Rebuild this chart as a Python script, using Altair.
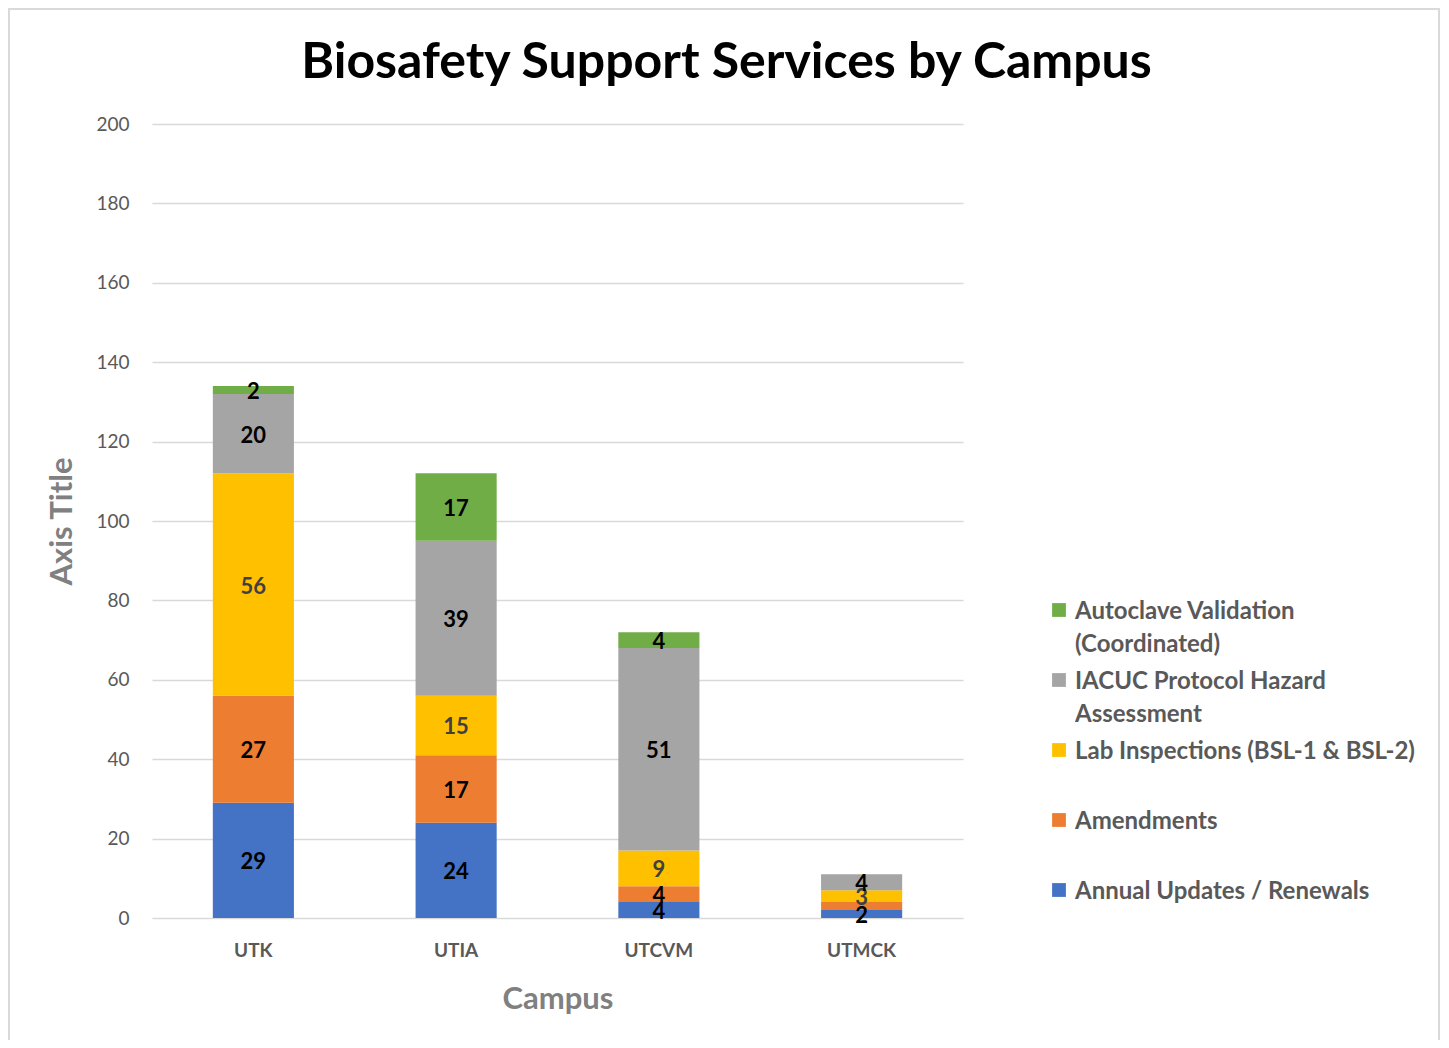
import altair as alt
import pandas as pd

campuses = ["UTK", "UTIA", "UTCVM", "UTMCK"]
series = [
    "Annual Updates / Renewals",
    "Amendments",
    "Lab Inspections (BSL-1 & BSL-2)",
    "IACUC Protocol Hazard Assessment",
    "Autoclave Validation (Coordinated)",
]
annual = [29, 24, 4, 2]
amendments = [27, 17, 4, 2]
lab = [56, 15, 9, 3]
iacuc = [20, 39, 51, 4]
autoclave = [2, 17, 4, 0]
# label visible flags (UTMCK amendments label is not shown in the original)
show_amend = [True, True, True, False]

colors = ["#4472C4", "#ED7D31", "#FFC000", "#A5A5A5", "#70AD47"]
label_colors = ["#000000", "#000000", "#404040", "#000000", "#000000"]

rows = []
for si, (name, vals) in enumerate(zip(series, [annual, amendments, lab, iacuc, autoclave])):
    for ci, c in enumerate(campuses):
        show = vals[ci] > 0 and (si != 1 or show_amend[ci])
        rows.append({"campus": c, "series": name, "value": vals[ci], "order": si,
                     "show": show, "lcolor": label_colors[si]})
df = pd.DataFrame(rows)

legend_domain = series[::-1]
legend_range = colors[::-1]

FONT = "Lato"
LDY = 9  # vertical shift of guide labels (style)

x_enc = alt.X("campus:N", sort=campuses, title="Campus",
              scale=alt.Scale(paddingInner=0.6, paddingOuter=0.3),
              axis=alt.Axis(labelFontWeight="bold", labelFontSize=19, labelColor="#595959",
                            labelPadding=23 - LDY, ticks=False, domain=False, labelAngle=0,
                            titleFontSize=31, titleFontWeight="bold", titleColor="#808080",
                            titlePadding=24))

base = alt.Chart(df).transform_stack(
    stack="value", groupby=["campus"], as_=["y0", "y1"],
    sort=[alt.SortField("order", order="ascending")]
).transform_calculate(mid="(datum.y0 + datum.y1) / 2")

bars = base.mark_bar().encode(
    x=x_enc,
    y=alt.Y("y0:Q", title="Axis Title",
            scale=alt.Scale(domain=[0, 200]),
            axis=alt.Axis(values=list(range(0, 201, 20)), labelFontSize=19, labelColor="#595959",
                          labelPadding=23, labelOffset=-LDY, ticks=False, domain=False,
                          gridColor="#D9D9D9", gridWidth=1.5, titleFontSize=31,
                          titleFontWeight="bold", titleColor="#808080", titlePadding=17)),
    y2="y1:Q",
    color=alt.Color("series:N", scale=alt.Scale(domain=legend_domain, range=legend_range),
                    legend=alt.Legend(
                        title=None, orient="none", legendX=895, legendY=474,
                        symbolType="square", symbolSize=190, symbolStrokeWidth=0,
                        labelFontSize=24, labelFontWeight="bold", labelColor="#595959",
                        labelLimit=500, rowPadding=11, gridAlign="all",
                        labelBaseline="alphabetic", labelOffset=4,
                        labelExpr="datum.label == 'Autoclave Validation (Coordinated)' ? ['Autoclave Validation', '(Coordinated)'] : datum.label == 'IACUC Protocol Hazard Assessment' ? ['IACUC Protocol Hazard', 'Assessment'] : datum.label",
                    )),
)

labels = base.transform_filter("datum.show").mark_text(
    fontWeight="bold", fontSize=22, font=FONT, baseline="middle", dy=2
).encode(
    x=alt.X("campus:N", sort=campuses),
    y=alt.Y("mid:Q"),
    text="value:Q",
    color=alt.Color("lcolor:N", scale=None),
)

frame = alt.Chart(pd.DataFrame({"k": [0]})).mark_rect(
    fill="transparent", stroke="#D9D9D9", strokeWidth=2, strokeOpacity=1, opacity=1, clip=False
).encode(
    x=alt.value(-143), x2=alt.value(1287), y=alt.value(-115), y2=alt.value(960)
)

chart = alt.layer(frame, bars, labels).properties(
    width=811, height=794,
    padding={"left": 144, "top": 116, "right": 478, "bottom": 122},
    autosize=alt.AutoSizeParams(type="none"),
    title=alt.TitleParams("Biosafety Support Services by Campus", fontSize=50, fontWeight="bold",
                          font=FONT, color="#000000", anchor="middle", dx=169, offset=-80),
).configure(font=FONT, style={"guide-label": {"lineHeight": 33, "dy": LDY}}).configure_view(stroke=None)

chart.save("out.html", embed_options={"renderer": "svg", "actions": False})
